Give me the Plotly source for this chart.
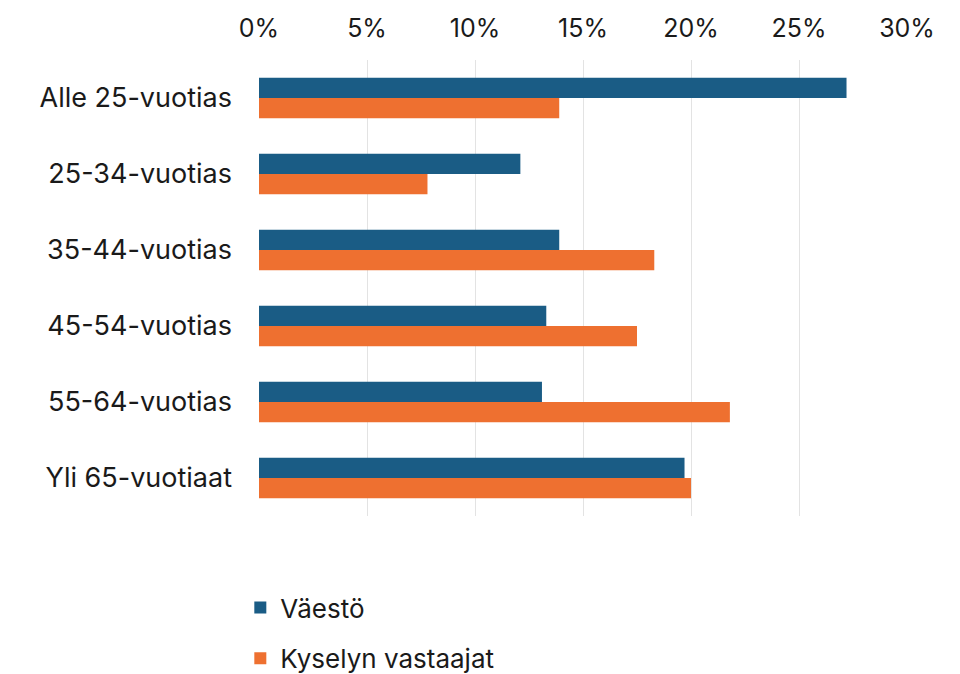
import plotly.graph_objects as go

age_groups = [
    "Alle 25-vuotias",
    "25-34-vuotias",
    "35-44-vuotias",
    "45-54-vuotias",
    "55-64-vuotias",
    "Yli 65-vuotiaat",
]
vaesto = [0.272, 0.121, 0.139, 0.133, 0.131, 0.197]
vastaajat = [0.139, 0.078, 0.183, 0.175, 0.218, 0.200]
x_ticks = [0, 0.05, 0.10, 0.15, 0.20, 0.25, 0.30]

BLUE = "#1a5c85"
ORANGE = "#ee7030"
FONT = "Inter"
TXT = "#1a1a1a"

fig = go.Figure()
fig.add_trace(
    go.Bar(
        y=age_groups,
        x=vaesto,
        name="Väestö",
        orientation="h",
        marker_color=BLUE,
        marker_line_width=0,
        legendgroup="a",
    )
)
fig.add_trace(
    go.Bar(
        y=age_groups,
        x=vastaajat,
        name="Kyselyn vastaajat",
        orientation="h",
        marker_color=ORANGE,
        marker_line_width=0,
        legendgroup="b",
    )
)

fig.update_layout(
    template="plotly_white",
    width=960,
    height=674,
    barmode="group",
    bargap=0.47,
    bargroupgap=0,
    margin=dict(l=251, r=61, t=52, b=166, autoexpand=False),
    font=dict(family=FONT, size=27, color=TXT),
    plot_bgcolor="white",
    paper_bgcolor="white",
    legend=dict(
        orientation="v",
        xref="container",
        yref="container",
        x=0.242,
        y=1 - 576 / 674,
        xanchor="left",
        yanchor="top",
        tracegroupgap=14,
        font=dict(family=FONT, size=26, color=TXT),
    ),
)
fig.update_xaxes(
    side="top",
    range=[0, 0.30],
    tickvals=x_ticks,
    tickformat=".0%",
    tickfont=dict(size=25),
    showgrid=True,
    gridcolor="#e3e3e3",
    gridwidth=1,
    zeroline=False,
    showline=False,
    ticklabelstandoff=17,
)
fig.update_yaxes(
    autorange="reversed",
    showgrid=False,
    showline=False,
    ticklabelstandoff=26,
)

fig.write_html("out.html")
